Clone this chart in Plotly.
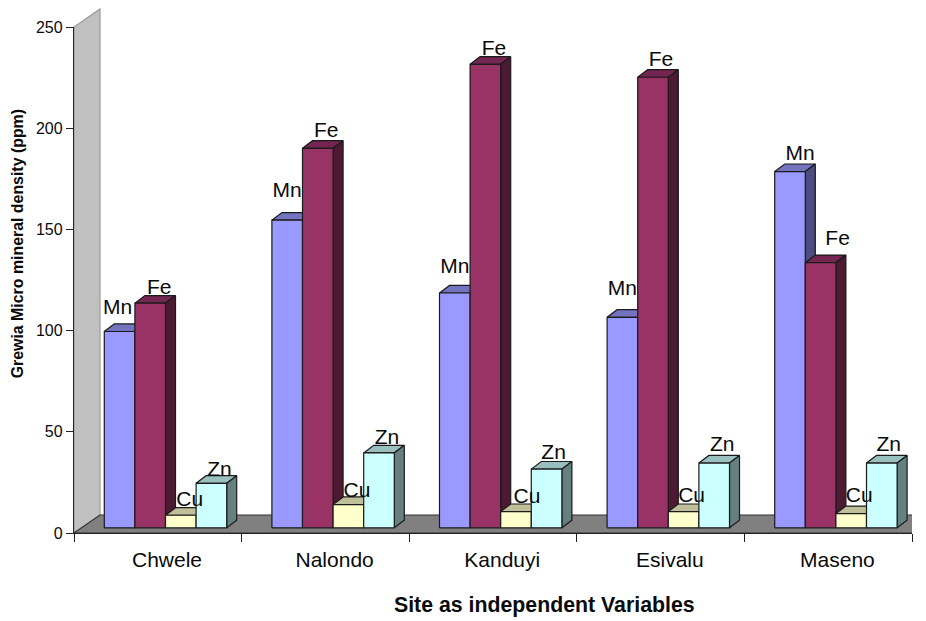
import plotly.graph_objects as go

# Mineral density per site, measured from the bar foot
sites = ["Chwele", "Nalondo", "Kanduyi", "Esivalu", "Maseno"]
mn = [97, 152, 116, 104, 176]
fe = [111, 187.5, 229, 222.6, 131]
cu = [6.2, 11.5, 8, 8, 7]
zn = [22, 37, 29, 32, 32]
y_ticks = [0, 50, 100, 150, 200, 250]

series = [
    ("Mn", mn, "#9999FF", "#7373BF", "#4D4D80"),
    ("Fe", fe, "#993366", "#732650", "#4D1A33"),
    ("Cu", cu, "#FFFFCC", "#BFBF99", "#808066"),
    ("Zn", zn, "#CCFFFF", "#99BFBF", "#668080"),
]

# Label placement relative to each bar, in screen pixels (right, up)
label_dx = [[-2, 0, 0, 0, 10], [9, 8.5, 8.5, 8, 17], [9, 8.5, 11, 8, 8], [8, 8, 7, 8, 7]]
label_dy = [[23, 28, 25, 28, 17], [14, 16.5, 15, 17, 23], [15, 13, 14, 15, 17], [13, 14, 15, 17, 17]]

# Plot frame in pixels and the resulting axis scales
WIDTH, HEIGHT = 926, 621
LEFT, RIGHT, TOP, BOTTOM = 74, 912, 27, 533.5
PX_X = (RIGHT - LEFT) / len(sites)
PX_Y = (BOTTOM - TOP) / 250

# Oblique projection offsets
WALL_DX_PX, WALL_DY_PX = 26, 18
WALL_DX, WALL_DY = WALL_DX_PX / PX_X, WALL_DY_PX / PX_Y
BAR_DX, BAR_DY = 10 / PX_X, 7.6 / PX_Y
BAR_FOOT = 5.2 / PX_Y
BAR_W = 30.6 / PX_X
GROUP_START = 30.3 / PX_X
LABEL_SHIFT = 0.555
FONT = "Liberation Sans, Arial, sans-serif"
EDGE = "#1a1a1a"
INK = "#0a0a0a"


def face(xs, ys, fill, line=EDGE, width=1.2):
    return go.Scatter(
        x=xs + xs[:1], y=ys + ys[:1], mode="lines", fill="toself", fillcolor=fill,
        line=dict(color=line, width=width), cliponaxis=False,
        hoverinfo="skip", showlegend=False,
    )


def paper_x(px):
    return (px - LEFT) / (RIGHT - LEFT)


def paper_y(px):
    return (BOTTOM - px) / (BOTTOM - TOP)


fig = go.Figure()

# Floor of the oblique box
n = len(sites)
fig.add_trace(face([0, n, n + WALL_DX, WALL_DX], [0, 0, WALL_DY, WALL_DY], "#808080", "#333333", 1.1))

# Each bar is painted left to right so later fronts cover earlier side faces
for g in range(n):
    for s, (name, vals, front, top, side) in enumerate(series):
        x0 = g + GROUP_START + s * BAR_W
        x1 = x0 + BAR_W
        y0, y1 = BAR_FOOT, BAR_FOOT + vals[g]
        fig.add_trace(face([x0, x1, x1 + BAR_DX, x0 + BAR_DX], [y1, y1, y1 + BAR_DY, y1 + BAR_DY], top))
        fig.add_trace(face([x1, x1 + BAR_DX, x1 + BAR_DX, x1], [y0, y0 + BAR_DY, y1 + BAR_DY, y1], side))
        fig.add_trace(face([x0, x1, x1, x0], [y0, y0, y1, y1], front))

# Series name above every bar
for s, (name, vals, *_colours) in enumerate(series):
    fig.add_trace(go.Scatter(
        x=[g + GROUP_START + (s + 0.5) * BAR_W + label_dx[s][g] / PX_X for g in range(n)],
        y=[BAR_FOOT + vals[g] + label_dy[s][g] / PX_Y for g in range(n)],
        mode="text", text=[name] * n, textposition="middle center",
        textfont=dict(family=FONT, size=21, color=INK),
        cliponaxis=False, hoverinfo="skip", showlegend=False,
    ))

# Side wall rises above the plot frame, so it sits on paper coordinates
wall_path = "M {} {} L {} {} L {} {} L {} {} Z".format(
    paper_x(LEFT), paper_y(BOTTOM),
    paper_x(LEFT + WALL_DX_PX), paper_y(BOTTOM - WALL_DY_PX),
    paper_x(LEFT + WALL_DX_PX), paper_y(TOP - WALL_DY_PX),
    paper_x(LEFT), paper_y(TOP),
)

fig.update_layout(
    width=WIDTH, height=HEIGHT, autosize=False,
    margin=dict(l=LEFT, r=WIDTH - RIGHT, t=TOP, b=HEIGHT - BOTTOM, pad=0),
    paper_bgcolor="white", plot_bgcolor="white", showlegend=False,
    shapes=[dict(type="path", path=wall_path, xref="paper", yref="paper", layer="below",
                 fillcolor="#C0C0C0", line=dict(color="#9a9a9a", width=1.2))],
    xaxis=dict(
        range=[0, n], showgrid=False, zeroline=False, showline=True, linecolor="#222222", linewidth=1.3,
        tickmode="array", tickvals=[i + LABEL_SHIFT for i in range(n)], ticktext=sites,
        ticks="outside", ticklen=8, tickcolor="rgba(0,0,0,0)",
        tickfont=dict(family=FONT, size=21, color=INK),
        minor=dict(tickmode="array", tickvals=list(range(n + 1)), ticks="outside", ticklen=8,
                   tickwidth=1.2, tickcolor="#222222", showgrid=False),
    ),
    yaxis=dict(
        range=[0, 250], showgrid=False, zeroline=False, showline=True, linecolor="#222222", linewidth=1.3,
        tickmode="array", tickvals=y_ticks, ticks="outside", ticklen=7, tickwidth=1.2, tickcolor="#222222",
        tickfont=dict(family=FONT, size=16, color=INK),
    ),
    annotations=[
        dict(text="<b>Site as independent Variables</b>", xref="paper", yref="paper", showarrow=False,
             xanchor="center", yanchor="middle", x=paper_x(544.5), y=paper_y(606),
             font=dict(family=FONT, size=21.3, color=INK)),
        dict(text="<b>Grewia Micro mineral density (ppm)</b>", xref="paper", yref="paper", showarrow=False,
             textangle=-90, xanchor="center", yanchor="middle", x=paper_x(17), y=paper_y(244.5),
             font=dict(family=FONT, size=15.9, color=INK)),
    ],
)

fig.write_html("out.html")
